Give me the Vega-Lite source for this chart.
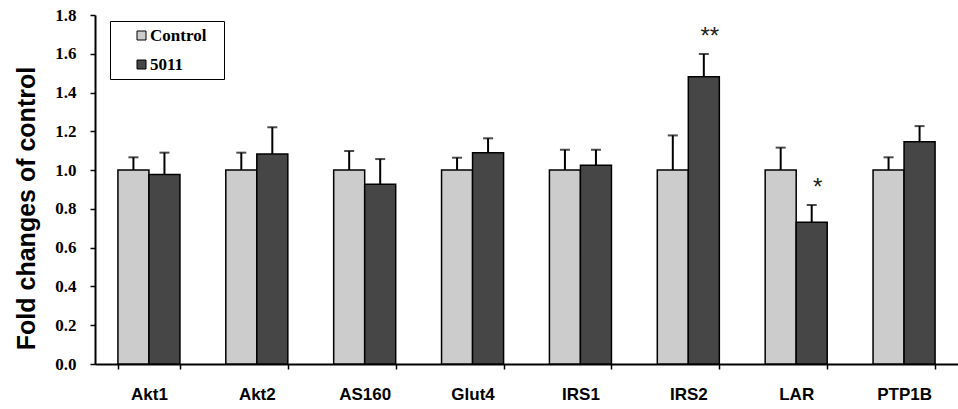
{
  "$schema": "https://vega.github.io/schema/vega-lite/v6.json",
  "autosize": {"type": "none"},
  "padding": {"left": 95, "top": 15, "right": 0, "bottom": 45},
  "width": 863,
  "height": 349,
  "background": "white",
  "config": {
    "view": {"stroke": null},
    "axis": {"domainColor": "black", "tickColor": "black", "labelColor": "black", "titleColor": "black", "grid": false},
    "axisY": {
      "values": [0, 0.2, 0.4, 0.6, 0.8, 1.0, 1.2, 1.4, 1.6, 1.8],
      "format": ".1f", "labelOverlap": false, "labelBound": false, "labelFlush": false,
      "labelFont": "Liberation Serif", "labelFontWeight": "bold", "labelFontSize": 17,
      "labelPadding": 14, "tickSize": 5, "tickWidth": 1.5, "domainWidth": 2,
      "titleFont": "Liberation Sans", "titleFontWeight": "bold", "titleFontSize": 25,
      "titleAngle": -90, "titleX": -61, "titleY": 193, "titleAlign": "center", "titleBaseline": "alphabetic"
    }
  },
  "data": {
    "values": [
      {"gene": "Akt1", "group": "Control", "value": 1.0, "upper": 1.066, "sig": ""},
      {"gene": "Akt1", "group": "5011", "value": 0.978, "upper": 1.09, "sig": ""},
      {"gene": "Akt2", "group": "Control", "value": 1.0, "upper": 1.09, "sig": ""},
      {"gene": "Akt2", "group": "5011", "value": 1.083, "upper": 1.221, "sig": ""},
      {"gene": "AS160", "group": "Control", "value": 1.0, "upper": 1.098, "sig": ""},
      {"gene": "AS160", "group": "5011", "value": 0.927, "upper": 1.057, "sig": ""},
      {"gene": "Glut4", "group": "Control", "value": 1.0, "upper": 1.064, "sig": ""},
      {"gene": "Glut4", "group": "5011", "value": 1.09, "upper": 1.164, "sig": ""},
      {"gene": "IRS1", "group": "Control", "value": 1.0, "upper": 1.105, "sig": ""},
      {"gene": "IRS1", "group": "5011", "value": 1.025, "upper": 1.105, "sig": ""},
      {"gene": "IRS2", "group": "Control", "value": 1.0, "upper": 1.179, "sig": ""},
      {"gene": "IRS2", "group": "5011", "value": 1.482, "upper": 1.599, "sig": "**"},
      {"gene": "LAR", "group": "Control", "value": 1.0, "upper": 1.116, "sig": ""},
      {"gene": "LAR", "group": "5011", "value": 0.731, "upper": 0.82, "sig": "*"},
      {"gene": "PTP1B", "group": "Control", "value": 1.0, "upper": 1.066, "sig": ""},
      {"gene": "PTP1B", "group": "5011", "value": 1.146, "upper": 1.227, "sig": ""}
    ]
  },
  "encoding": {
    "x": {
      "field": "gene", "type": "nominal", "sort": null,
      "scale": {"paddingInner": 0.425, "paddingOuter": 0.2125},
      "axis": {
        "title": null, "labelAngle": 0, "tickBand": "extent",
        "labelFont": "Liberation Sans", "labelFontWeight": "bold", "labelFontSize": 17,
        "labelPadding": 17, "tickSize": 5, "tickWidth": 1.5, "domainWidth": 2
      }
    },
    "xOffset": {"field": "group", "type": "nominal", "sort": ["Control", "5011"]}
  },
  "layer": [
    {
      "mark": {"type": "rule", "color": "black", "strokeWidth": 2},
      "encoding": {
        "y": {"field": "value", "type": "quantitative", "title": "Fold changes of control",
              "scale": {"domain": [0, 1.8], "nice": false, "zero": true}},
        "y2": {"field": "upper"}
      }
    },
    {
      "mark": {"type": "tick", "color": "black", "thickness": 2, "size": 10},
      "encoding": {
        "y": {"field": "upper", "type": "quantitative", "title": "Fold changes of control"}
      }
    },
    {
      "mark": {"type": "bar", "stroke": "black", "strokeWidth": 1.5},
      "encoding": {
        "y": {"field": "value", "type": "quantitative", "title": "Fold changes of control"},
        "color": {
          "field": "group", "type": "nominal",
          "scale": {"domain": ["Control", "5011"], "range": ["#cccccc", "#464646"]},
          "legend": {
            "orient": "none", "legendX": 15, "legendY": 6,
            "title": "x", "titleOrient": "right", "titleOpacity": 0, "titleFontSize": 2, "titlePadding": 10,
            "symbolType": "square", "symbolSize": 81, "symbolStrokeColor": "black", "symbolStrokeWidth": 1,
            "symbolOffset": 17, "labelOffset": 0,
            "labelFont": "Liberation Serif", "labelFontWeight": "bold", "labelFontSize": 17, "labelColor": "black",
            "rowPadding": 11, "padding": 6, "strokeColor": "black", "fillColor": "white"
          }
        }
      }
    },
    {
      "mark": {"type": "text", "font": "Liberation Sans", "fontSize": 24, "baseline": "middle", "dy": -17, "dx": 6, "color": "#222222"},
      "encoding": {
        "y": {"field": "upper", "type": "quantitative", "title": "Fold changes of control"},
        "text": {"field": "sig"}
      }
    }
  ]
}
